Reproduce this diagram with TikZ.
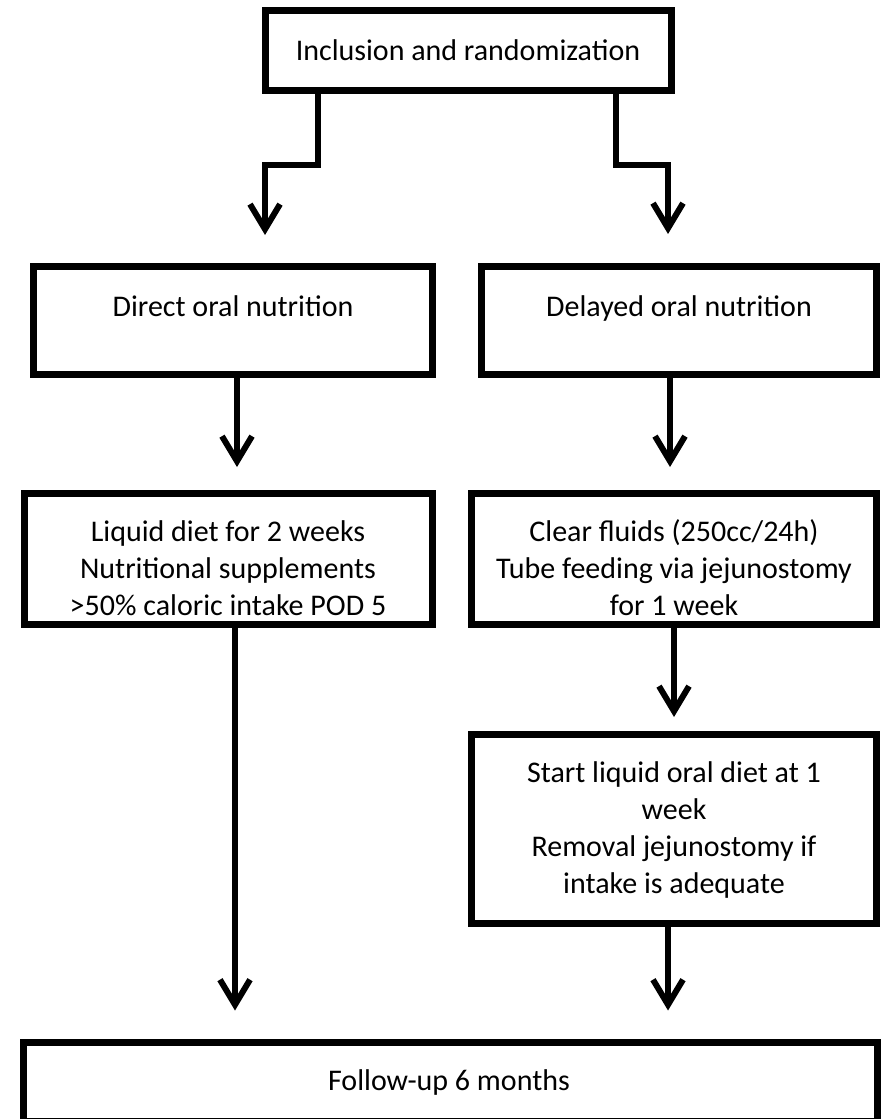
\documentclass[tikz,border=0pt]{standalone}
\usepackage{fontspec}
\setmainfont{Carlito}
\usetikzlibrary{arrows.meta}
\begin{document}
\begin{tikzpicture}[x=1pt,y=-1pt,
  box/.style={draw, line width=7pt, rectangle, inner sep=0pt},
  conn/.style={line width=6pt, -{Straight Barb[length=25pt,width=30pt,sharp]}},
  txt/.style={font=\fontsize{30}{37}\selectfont, align=center, inner sep=0pt},
  oneline/.style={txt, text height=21pt, text depth=0pt}]
\useasboundingbox (0,0) rectangle (881,1119);
% boxes
\node[box, minimum width=406pt, minimum height=80pt]  (top)     at (468.5,50.5) {};
\node[box, minimum width=399pt, minimum height=108pt] (direct)  at (233,320.5) {};
\node[box, minimum width=395pt, minimum height=108pt] (delayed) at (679,320.5) {};
\node[box, minimum width=408pt, minimum height=131pt] (liquid)  at (228.5,559) {};
\node[box, minimum width=405pt, minimum height=131pt] (clear)   at (674,559) {};
\node[box, minimum width=405pt, minimum height=189pt] (start)   at (674,829) {};
\node[box, minimum width=854pt, minimum height=79pt]  (follow)  at (450.5,1081.5) {};
% texts
\node[oneline] (tTop)     at (468,50)  {Inclusion and randomization};
\node[oneline] (tDirect)  at (233,306) {Direct oral nutrition};
\node[oneline] (tDelayed) at (679,306) {Delayed oral nutrition};
\node[txt] (tLiquid)  at (228,568) {Liquid diet for 2 weeks\\Nutritional supplements\\>50\% caloric intake POD 5};
\node[txt] (tClear)   at (674,568) {Clear fluids (250cc/24h)\\Tube feeding via jejunostomy\\for 1 week};
\node[txt] (tStart)   at (674,830) {Start liquid oral diet at 1\\week\\Removal jejunostomy if\\intake is adequate};
\node[oneline] (tFollow)  at (449,1080) {Follow-up 6 months};
% connector helper coordinates
\coordinate (lA) at (318,165); \coordinate (lB) at (265,165);
\coordinate (rA) at (616,165); \coordinate (rB) at (668,165);
\coordinate (xa) at (237,0);   \coordinate (xb) at (670,0);
\coordinate (xc) at (674,0);   \coordinate (xd) at (235,0);
\coordinate (xe) at (668,0);
% connectors
\draw[conn, shorten >=28pt] (top.south -| lA) -- (lA) -- (lB) -- (direct.north -| lB);
\draw[conn, shorten >=29pt] (top.south -| rA) -- (rA) -- (rB) -- (delayed.north -| rB);
\draw[conn, shorten >=23pt] (direct.south -| xa) -- (liquid.north -| xa);
\draw[conn, shorten >=23pt] (delayed.south -| xb) -- (clear.north -| xb);
\draw[conn, shorten >=14pt] (clear.south -| xc) -- (start.north -| xc);
\draw[conn, shorten >=28pt] (liquid.south -| xd) -- (follow.north -| xd);
\draw[conn, shorten >=28pt] (start.south -| xe) -- (follow.north -| xe);
\end{tikzpicture}
\end{document}
